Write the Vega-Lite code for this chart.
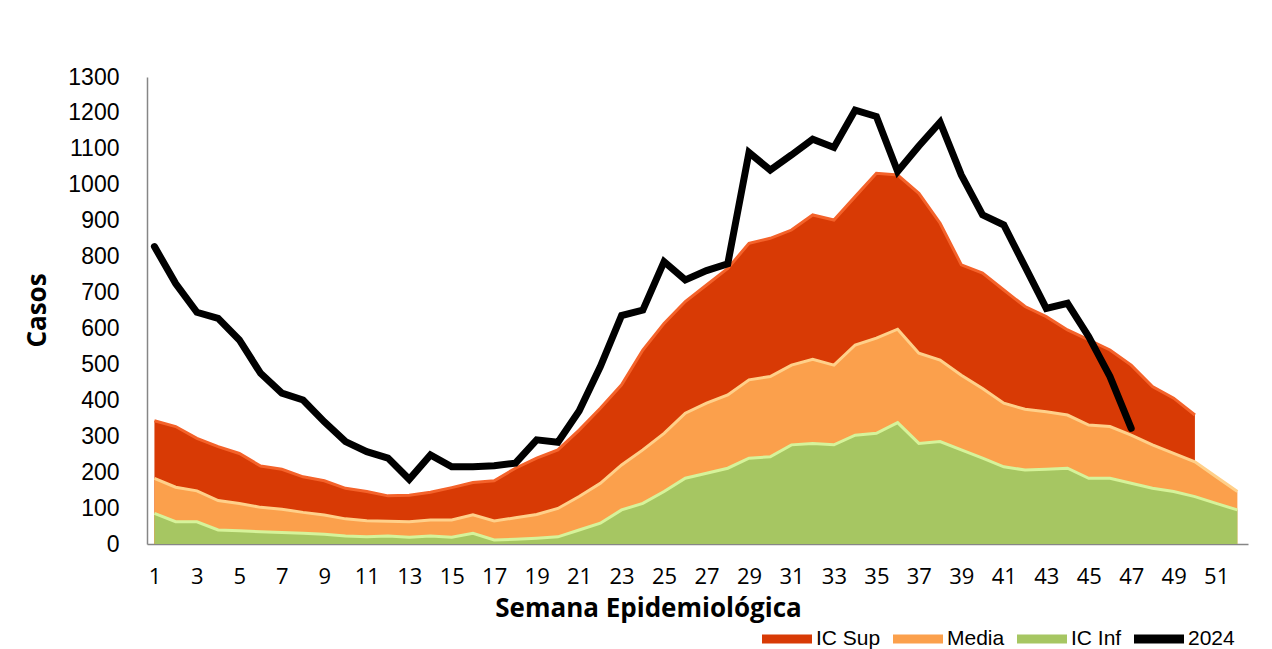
{
  "$schema": "https://vega.github.io/schema/vega-lite/v6.json",
  "width": 1101,
  "height": 467,
  "autosize": {"type": "none"},
  "padding": {"left": 147, "top": 77, "right": 24, "bottom": 105},
  "background": "white",
  "config": {"view": {"stroke": null}},
  "data": {
    "values": [
      {"semana": 1, "IC Sup": 343, "Media": 183, "IC Inf": 85, "2024": 828},
      {"semana": 2, "IC Sup": 327, "Media": 158, "IC Inf": 62, "2024": 725},
      {"semana": 3, "IC Sup": 294, "Media": 148, "IC Inf": 62, "2024": 645},
      {"semana": 4, "IC Sup": 271, "Media": 121, "IC Inf": 39, "2024": 628},
      {"semana": 5, "IC Sup": 252, "Media": 113, "IC Inf": 37, "2024": 568},
      {"semana": 6, "IC Sup": 217, "Media": 102, "IC Inf": 34, "2024": 475},
      {"semana": 7, "IC Sup": 208, "Media": 97, "IC Inf": 32, "2024": 420},
      {"semana": 8, "IC Sup": 187, "Media": 88, "IC Inf": 30, "2024": 401},
      {"semana": 9, "IC Sup": 176, "Media": 81, "IC Inf": 27, "2024": 340},
      {"semana": 10, "IC Sup": 155, "Media": 70, "IC Inf": 22, "2024": 285},
      {"semana": 11, "IC Sup": 146, "Media": 65, "IC Inf": 20, "2024": 257},
      {"semana": 12, "IC Sup": 134, "Media": 63, "IC Inf": 22, "2024": 239},
      {"semana": 13, "IC Sup": 136, "Media": 62, "IC Inf": 19, "2024": 180},
      {"semana": 14, "IC Sup": 144, "Media": 67, "IC Inf": 22, "2024": 248},
      {"semana": 15, "IC Sup": 157, "Media": 67, "IC Inf": 19, "2024": 215},
      {"semana": 16, "IC Sup": 171, "Media": 81, "IC Inf": 30, "2024": 215},
      {"semana": 17, "IC Sup": 176, "Media": 64, "IC Inf": 11, "2024": 218},
      {"semana": 18, "IC Sup": 211, "Media": 73, "IC Inf": 13, "2024": 225},
      {"semana": 19, "IC Sup": 239, "Media": 82, "IC Inf": 16, "2024": 290},
      {"semana": 20, "IC Sup": 262, "Media": 99, "IC Inf": 20, "2024": 283},
      {"semana": 21, "IC Sup": 317, "Media": 132, "IC Inf": 39, "2024": 370},
      {"semana": 22, "IC Sup": 378, "Media": 169, "IC Inf": 58, "2024": 494},
      {"semana": 23, "IC Sup": 443, "Media": 220, "IC Inf": 95, "2024": 636},
      {"semana": 24, "IC Sup": 540, "Media": 262, "IC Inf": 113, "2024": 651},
      {"semana": 25, "IC Sup": 614, "Media": 308, "IC Inf": 146, "2024": 786},
      {"semana": 26, "IC Sup": 675, "Media": 364, "IC Inf": 183, "2024": 735},
      {"semana": 27, "IC Sup": 721, "Media": 392, "IC Inf": 197, "2024": 761},
      {"semana": 28, "IC Sup": 767, "Media": 415, "IC Inf": 211, "2024": 780},
      {"semana": 29, "IC Sup": 837, "Media": 457, "IC Inf": 239, "2024": 1090},
      {"semana": 30, "IC Sup": 851, "Media": 466, "IC Inf": 243, "2024": 1041},
      {"semana": 31, "IC Sup": 874, "Media": 498, "IC Inf": 276, "2024": 1083},
      {"semana": 32, "IC Sup": 916, "Media": 514, "IC Inf": 280, "2024": 1127},
      {"semana": 33, "IC Sup": 902, "Media": 498, "IC Inf": 276, "2024": 1104},
      {"semana": 34, "IC Sup": 967, "Media": 554, "IC Inf": 303, "2024": 1208},
      {"semana": 35, "IC Sup": 1032, "Media": 573, "IC Inf": 308, "2024": 1190},
      {"semana": 36, "IC Sup": 1027, "Media": 598, "IC Inf": 338, "2024": 1037},
      {"semana": 37, "IC Sup": 976, "Media": 531, "IC Inf": 280, "2024": 1108},
      {"semana": 38, "IC Sup": 893, "Media": 512, "IC Inf": 285, "2024": 1174},
      {"semana": 39, "IC Sup": 777, "Media": 470, "IC Inf": 262, "2024": 1027},
      {"semana": 40, "IC Sup": 754, "Media": 433, "IC Inf": 239, "2024": 916},
      {"semana": 41, "IC Sup": 707, "Media": 392, "IC Inf": 215, "2024": 888},
      {"semana": 42, "IC Sup": 661, "Media": 375, "IC Inf": 206, "2024": 772},
      {"semana": 43, "IC Sup": 633, "Media": 368, "IC Inf": 208, "2024": 656},
      {"semana": 44, "IC Sup": 596, "Media": 359, "IC Inf": 211, "2024": 670},
      {"semana": 45, "IC Sup": 568, "Media": 331, "IC Inf": 183, "2024": 577},
      {"semana": 46, "IC Sup": 540, "Media": 327, "IC Inf": 183, "2024": 466},
      {"semana": 47, "IC Sup": 498, "Media": 303, "IC Inf": 169, "2024": 322},
      {"semana": 48, "IC Sup": 438, "Media": 276, "IC Inf": 155},
      {"semana": 49, "IC Sup": 406, "Media": 252, "IC Inf": 146},
      {"semana": 50, "IC Sup": 359, "Media": 229, "IC Inf": 132},
      {"semana": 51, "Media": 187, "IC Inf": 113},
      {"semana": 52, "Media": 146, "IC Inf": 95}
    ]
  },
  "transform": [
    {"fold": ["IC Sup", "Media", "IC Inf", "2024"], "as": ["serie", "casos"]},
    {"filter": "isValid(datum.casos)"}
  ],
  "encoding": {
    "x": {
      "field": "semana",
      "type": "quantitative",
      "scale": {"domain": [0.65, 52.5], "nice": false, "zero": false},
      "axis": {
        "values": [1, 3, 5, 7, 9, 11, 13, 15, 17, 19, 21, 23, 25, 27, 29, 31, 33, 35, 37, 39, 41, 43, 45, 47, 49, 51],
        "grid": false,
        "ticks": false,
        "domainColor": "#868686",
        "domainWidth": 1.5,
        "labelFont": "Open Sans",
        "labelFontSize": 22,
        "labelColor": "#000000",
        "labelPadding": 22,
        "labelFlush": false,
        "title": "Semana Epidemiológica",
        "titleFont": "Open Sans",
        "titleFontSize": 26,
        "titleFontWeight": "bold",
        "titleColor": "#000000",
        "titleX": 501,
        "titleY": 64,
        "titleBaseline": "middle",
        "titleAlign": "center"
      }
    },
    "y": {
      "field": "casos",
      "type": "quantitative",
      "stack": null,
      "scale": {"domain": [0, 1300], "nice": false},
      "axis": {
        "values": [0, 100, 200, 300, 400, 500, 600, 700, 800, 900, 1000, 1100, 1200, 1300],
        "format": "d",
        "grid": false,
        "ticks": false,
        "domainColor": "#868686",
        "domainWidth": 1.5,
        "labelFont": "Liberation Sans",
        "labelFontSize": 23,
        "labelColor": "#000000",
        "labelPadding": 28,
        "title": "Casos",
        "titleFont": "Open Sans",
        "titleFontSize": 26,
        "titleFontWeight": "bold",
        "titleColor": "#000000",
        "titleAngle": 270,
        "titleX": -110,
        "titleY": 233,
        "titleBaseline": "middle",
        "titleAlign": "center"
      }
    },
    "color": {
      "field": "serie",
      "type": "nominal",
      "scale": {
        "domain": ["IC Sup", "Media", "IC Inf", "2024"],
        "range": ["#D83A05", "#FBA04C", "#A6C662", "#000000"]
      },
      "legend": {
        "title": null,
        "orient": "none",
        "legendX": 615,
        "legendY": 537,
        "direction": "horizontal",
        "columns": 4,
        "symbolType": "M-1,-0.18H1V0.18H-1Z",
        "symbolSize": 2500,
        "symbolStrokeWidth": 0,
        "symbolOpacity": 1,
        "labelFont": "Liberation Sans",
        "labelFontSize": 21,
        "labelColor": "#000000",
        "labelOffset": 4,
        "columnPadding": 12
      }
    }
  },
  "layer": [
    {
      "transform": [{"filter": "datum.serie === 'IC Sup'"}],
      "mark": {"type": "area", "opacity": 1}
    },
    {
      "transform": [{"filter": "datum.serie === 'IC Sup'"}],
      "mark": {"type": "line", "strokeWidth": 3},
      "encoding": {"color": {"value": "#F4622A"}}
    },
    {
      "transform": [{"filter": "datum.serie === 'Media'"}],
      "mark": {"type": "area", "opacity": 1}
    },
    {
      "transform": [{"filter": "datum.serie === 'Media'"}],
      "mark": {"type": "line", "strokeWidth": 3},
      "encoding": {"color": {"value": "#FFD08A"}}
    },
    {
      "transform": [{"filter": "datum.serie === 'IC Inf'"}],
      "mark": {"type": "area", "opacity": 1}
    },
    {
      "transform": [{"filter": "datum.serie === 'IC Inf'"}],
      "mark": {"type": "line", "strokeWidth": 3},
      "encoding": {"color": {"value": "#D6F39A"}}
    },
    {
      "transform": [{"filter": "datum.serie === '2024'"}],
      "mark": {"type": "line", "strokeWidth": 7, "strokeCap": "round"}
    }
  ]
}
